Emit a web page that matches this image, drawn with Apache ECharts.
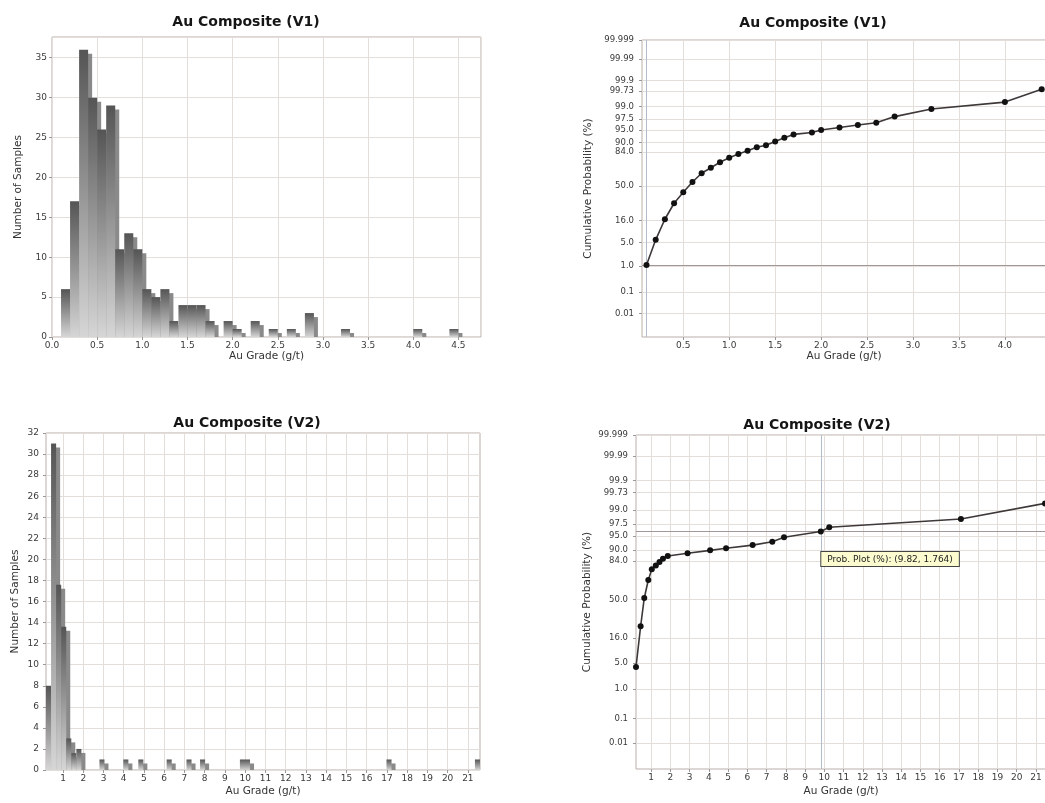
<!DOCTYPE html>
<html><head><meta charset="utf-8">
<script src="https://cdn.jsdelivr.net/npm/echarts@6/dist/echarts.min.js"></script>
<style>html,body{margin:0;padding:0;background:#fff}#c{width:1045px;height:803px}</style>
</head><body><div id="c"></div>
<script>
// ================= DATA =================
const titles = ['Au Composite (V1)', 'Au Composite (V1)', 'Au Composite (V2)', 'Au Composite (V2)'];
const xName = 'Au Grade (g/t)';
const histYName = 'Number of Samples';
const probYName = 'Cumulative Probability (%)';

// V1 histogram: lower bin edges (g/t) and counts, bin width 0.1
const v1BinWidth = 0.1;
const v1BinStarts = [0.1,0.2,0.3,0.4,0.5,0.6,0.7,0.8,0.9,1.0,1.1,1.2,1.3,1.4,1.5,1.6,1.7,1.9,2.0,2.2,2.4,2.6,2.8,3.2,4.0,4.4];
const v1Counts    = [6,  17, 36, 30, 26, 29, 11, 13, 11, 6,  5,  6,  2,  4,  4,  4,  2,  2,  1,  2,  1,  1,  3,  1,  1,  1];

// V2 histogram: lower bin edges and counts, bin width 0.25
const v2BinWidth = 0.25;
const v2BinStarts = [0.16,0.41,0.66,0.91,1.16,1.41,1.66,2.8,3.98,4.72,6.12,7.1,7.77,9.74,9.99,16.98,21.35];
const v2Counts    = [8,   31,  17.6,13.6,3,   1.6, 2,   1,  1,   1,   1,   1,  1,   1,   1,   1,    1];

// V1 probability plot: grade (g/t) and cumulative probability (%)
const v1ProbX = [0.1,0.2,0.3,0.4,0.5,0.6,0.7,0.8,0.9,1.0,1.1,1.2,1.3,1.4,1.5,1.6,1.7,1.9,2.0,2.2,2.4,2.6,2.8,3.2,4.0,4.4];
const v1ProbP = [1.08,5.9,16.8,31,43,55,64.8,70.6,75.8,79.8,82.7,85,87.3,88.4,90.4,92.2,93.5,94.2,95.0,95.7,96.3,96.8,97.9,98.8,99.3,99.77];

// V2 probability plot
const v2ProbX = [0.22,0.46,0.65,0.86,1.04,1.25,1.44,1.62,1.87,2.9,4.07,4.9,6.28,7.3,7.91,9.82,10.26,17.1,21.47];
const v2ProbP = [3.98,24.3,51.6,69.4,78.3,81.1,83.4,85.5,87.1,88.5,89.9,90.8,92.1,93.3,94.7,96.11,96.96,98.17,99.37];

// probability-axis tick labels (%)
const probTickLabels = ['99.999','99.99','99.9','99.73','99.0','97.5','95.0','90.0','84.0','50.0','16.0','5.0','1.0','0.1','0.01'];

// x tick labels
const v1XTicks = [0.5,1.0,1.5,2.0,2.5,3.0,3.5,4.0,4.5];
const v2XTicks = [1,2,3,4,5,6,7,8,9,10,11,12,13,14,15,16,17,18,19,20,21];

// crosshair of the V2 probability plot (grade, z) as shown in its tooltip
const v2Cross = [9.82, 1.764];

// ================= HELPERS =================
function normInv(p) {
  const a=[-3.969683028665376e+01,2.209460984245205e+02,-2.759285104469687e+02,1.383577518672690e+02,-3.066479806614716e+01,2.506628277459239e+00];
  const b=[-5.447609879822406e+01,1.615858368580409e+02,-1.556989798598866e+02,6.680131188771972e+01,-1.328068155288572e+01];
  const c=[-7.784894002430293e-03,-3.223964580411365e-01,-2.400758277161838e+00,-2.549732539343734e+00,4.374664141464968e+00,2.938163982698783e+00];
  const d=[7.784695709041462e-03,3.224671290700398e-01,2.445134137142996e+00,3.754408661907416e+00];
  const pl=0.02425, ph=1-pl;
  let q, r;
  if (p < pl) { q=Math.sqrt(-2*Math.log(p)); return (((((c[0]*q+c[1])*q+c[2])*q+c[3])*q+c[4])*q+c[5])/((((d[0]*q+d[1])*q+d[2])*q+d[3])*q+1); }
  if (p <= ph) { q=p-0.5; r=q*q; return (((((a[0]*r+a[1])*r+a[2])*r+a[3])*r+a[4])*r+a[5])*q/(((((b[0]*r+b[1])*r+b[2])*r+b[3])*r+b[4])*r+1); }
  q=Math.sqrt(-2*Math.log(1-p)); return -(((((c[0]*q+c[1])*q+c[2])*q+c[3])*q+c[4])*q+c[5])/((((d[0]*q+d[1])*q+d[2])*q+d[3])*q+1);
}
const zOf = pct => normInv(pct/100);
const probTickZ = probTickLabels.map(l => zOf(parseFloat(l)));
function probLabel(v) {
  let best = '', bd = 1e9;
  probTickZ.forEach((z, i) => { const dd = Math.abs(z - v); if (dd < bd) { bd = dd; best = probTickLabels[i]; } });
  return best;
}

const FONT = 'DejaVu Sans, Liberation Sans, Arial, sans-serif';
const gridLine = '#e4dedb';
const borderCol = '#b9afab';
const labelCol = '#3a3a3a';

const barFill = new echarts.graphic.LinearGradient(0, 0, 0, 1, [
  {offset: 0, color: '#555555'}, {offset: 1, color: '#d6d6d6'}
]);

function histSeries(idx, starts, counts, w) {
  return {
    type: 'custom', xAxisIndex: idx, yAxisIndex: idx, clip: true,
    data: starts.map((s, k) => [s, s + w, counts[k]]),
    encode: {x: [0, 1], y: 2},
    renderItem: function (params, api) {
      const p0 = api.coord([api.value(0), api.value(2)]);
      const p1 = api.coord([api.value(1), 0]);
      return {
        type: 'rect',
        shape: {x: p0[0], y: p0[1], width: p1[0] - p0[0], height: p1[1] - p0[1]},
        style: {fill: barFill, shadowColor: '#8a8a8a', shadowBlur: 0, shadowOffsetX: 4, shadowOffsetY: 4}
      };
    }
  };
}

function probSeries(idx, xs, ps) {
  return {
    type: 'line', xAxisIndex: idx, yAxisIndex: idx, z: 5,
    data: xs.map((x, i) => [x, zOf(ps[i])]),
    symbol: 'circle', symbolSize: 6, showSymbol: true,
    itemStyle: {color: '#111'},
    lineStyle: {color: '#3e3838', width: 1.6}
  };
}

// crosshair lines drawn beneath the points, with an optional tooltip box
function crossSeries(idx, cross, tip) {
  const s = {
    type: 'line', xAxisIndex: idx, yAxisIndex: idx, z: 1, data: [], silent: true,
    markLine: {
      silent: true, symbol: ['none', 'none'], label: {show: false}, animation: false,
      data: [
        {xAxis: cross[0], lineStyle: {color: '#b3bccb', width: 1, type: 'solid'}},
        {yAxis: cross[1], lineStyle: {color: '#a29696', width: 1, type: 'solid'}}
      ]
    }
  };
  if (tip) {
    s.markPoint = {
      silent: true, animation: false,
      data: [{coord: cross, symbol: 'rect', symbolSize: 1, itemStyle: {color: 'rgba(0,0,0,0)'},
        label: {show: true, formatter: tip, position: [1, 21], align: 'left', verticalAlign: 'top',
          fontFamily: FONT, fontSize: 9, color: '#222', backgroundColor: '#fbfbcf',
          borderColor: '#444', borderWidth: 1, padding: [3, 6, 2, 6]}}]
    };
  }
  return s;
}

function baseGrid(left, top, width, height) {
  return {left, top, width, height, show: true, borderColor: borderCol, borderWidth: 1,
    backgroundColor: '#fff', containLabel: false, outerBoundsMode: 'none'};
}

const axisNameStyle = {fontFamily: FONT, fontSize: 10.5, color: '#333'};
const tickLabel = {fontFamily: FONT, fontSize: 9, color: labelCol};
const tickStyle = {show: true, length: 3, lineStyle: {color: '#999'}};

function xAxis(idx, min, max, extra) {
  return Object.assign({
    type: 'value', gridIndex: idx, min, max, name: xName, nameLocation: 'middle', nameGap: 14,
    nameTextStyle: axisNameStyle,
    axisLine: {show: false, onZero: false}, axisTick: tickStyle,
    splitLine: {show: true, lineStyle: {color: gridLine, width: 1}}
  }, extra);
}
function yAxis(idx, min, max, name, gap, extra) {
  return Object.assign({
    type: 'value', gridIndex: idx, min, max, name, nameLocation: 'middle', nameGap: gap,
    nameRotate: 90, nameTextStyle: axisNameStyle,
    axisLine: {show: false, onZero: false}, axisTick: tickStyle,
    splitLine: {show: true, lineStyle: {color: gridLine, width: 1}}
  }, extra);
}

const v1Cross = [v1ProbX[0], zOf(v1ProbP[0])];
const tipText = 'Prob. Plot (%): (' + v2Cross[0].toFixed(2) + ', ' + v2Cross[1].toFixed(3) + ')';

const option = {
  animation: false,
  backgroundColor: '#fff',
  title: [
    {text: titles[0], left: 241, top: 10, textAlign: 'center'},
    {text: titles[1], left: 808, top: 11, textAlign: 'center'},
    {text: titles[2], left: 242, top: 411, textAlign: 'center'},
    {text: titles[3], left: 812, top: 413, textAlign: 'center'}
  ].map(t => Object.assign(t, {textStyle: {fontFamily: FONT, fontSize: 14, fontWeight: 'bold', color: '#151515'}})),
  grid: [
    baseGrid(52, 37, 429, 300),
    baseGrid(642, 40, 404, 297),
    baseGrid(46, 433, 434, 337),
    baseGrid(636, 435, 410, 334)
  ],
  xAxis: [
    xAxis(0, 0, 4.75, {interval: 0.5, axisLabel: Object.assign({margin: 4, showMaxLabel: false, formatter: v => v.toFixed(1)}, tickLabel)}),
    xAxis(1, 0.051, 4.447, {axisTick: Object.assign({customValues: v1XTicks}, tickStyle),
      axisLabel: Object.assign({margin: 4, customValues: v1XTicks, formatter: v => v.toFixed(1)}, tickLabel)}),
    xAxis(2, 0.16, 21.6, {nameGap: 16, axisTick: Object.assign({customValues: v2XTicks}, tickStyle),
      axisLabel: Object.assign({margin: 4, customValues: v2XTicks, formatter: v => String(Math.round(v))}, tickLabel)}),
    xAxis(3, 0.22, 21.52, {nameGap: 17, axisTick: Object.assign({customValues: v2XTicks}, tickStyle),
      axisLabel: Object.assign({margin: 4, customValues: v2XTicks, formatter: v => String(Math.round(v))}, tickLabel)})
  ],
  yAxis: [
    yAxis(0, 0, 37.6, histYName, 28, {interval: 5, axisLabel: Object.assign({margin: 5, showMaxLabel: false}, tickLabel)}),
    yAxis(1, -4.4, 4.27, probYName, 48, {axisTick: Object.assign({customValues: probTickZ}, tickStyle),
      axisLabel: Object.assign({margin: 8, customValues: probTickZ, formatter: probLabel}, tickLabel, {fontSize: 8.5})}),
    yAxis(2, 0, 32, histYName, 25, {interval: 2, axisLabel: Object.assign({margin: 7}, tickLabel)}),
    yAxis(3, -4.4, 4.27, probYName, 43, {axisTick: Object.assign({customValues: probTickZ}, tickStyle),
      axisLabel: Object.assign({margin: 8, customValues: probTickZ, formatter: probLabel}, tickLabel, {fontSize: 8.5})})
  ],
  series: [
    histSeries(0, v1BinStarts, v1Counts, v1BinWidth),
    crossSeries(1, v1Cross, null),
    probSeries(1, v1ProbX, v1ProbP),
    histSeries(2, v2BinStarts, v2Counts, v2BinWidth),
    crossSeries(3, v2Cross, tipText),
    probSeries(3, v2ProbX, v2ProbP)
  ]
};

const chart = echarts.init(document.getElementById('c'), null, {renderer: 'canvas'});
chart.setOption(option);
</script>
</body></html>
